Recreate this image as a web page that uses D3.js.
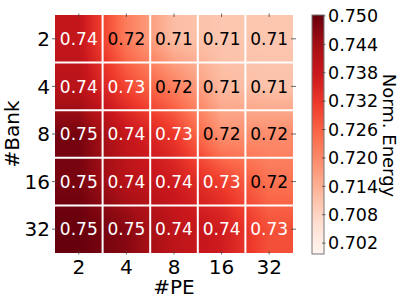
<!DOCTYPE html>
<html>
<head>
<meta charset="utf-8">
<script src="https://cdn.jsdelivr.net/npm/d3@7"></script>
<style>
  body { margin: 0; background: #fff; }
  text { font-family: "DejaVu Sans", sans-serif; }
</style>
</head>
<body>
<script>
// data
var peLabels = ['2', '4', '8', '16', '32'];   // x: #PE
var bankLabels = ['2', '4', '8', '16', '32']; // y: #Bank
var energyBank2  = [0.7390, 0.7220, 0.7120, 0.7105, 0.7105];
var energyBank4  = [0.7405, 0.7300, 0.7215, 0.7125, 0.7110];
var energyBank8  = [0.7488, 0.7388, 0.7320, 0.7185, 0.7195];
var energyBank16 = [0.7485, 0.7410, 0.7370, 0.7310, 0.7235];
var energyBank32 = [0.7502, 0.7470, 0.7400, 0.7370, 0.7285];
var colorbarTicks = [0.702, 0.708, 0.714, 0.720, 0.726, 0.732, 0.738, 0.744, 0.750];
var vmin = 0.6997, vmax = 0.7502;

var grid = [energyBank2, energyBank4, energyBank8, energyBank16, energyBank32];

var width = 399, height = 299;
// heatmap box (note: "top" is reserved on window)
var mLeft = 55, mRight = 293, mTop = 15, mBottom = 253;

// matplotlib "Reds"
var redStops = ['#fff5f0', '#fee0d2', '#fcbba1', '#fc9272', '#fb6a4a', '#ef3b2c', '#cb181d', '#a50f15', '#67000d'];
var color = d3.scaleLinear()
  .domain(redStops.map(function(d, i) { return vmin + (vmax - vmin) * i / (redStops.length - 1); }))
  .range(redStops)
  .interpolate(d3.interpolateRgb)
  .clamp(true);

var x = d3.scaleBand().domain(peLabels).range([mLeft, mRight]);
var y = d3.scaleBand().domain(bankLabels).range([mTop, mBottom]);

var svg = d3.select('body').append('svg')
  .attr('width', width)
  .attr('height', height);

// bilinear shaded image of the grid
var imgW = Math.round(mRight - mLeft), imgH = Math.round(mBottom - mTop);
var canvas = document.createElement('canvas');
canvas.width = imgW; canvas.height = imgH;
var ctx = canvas.getContext('2d');
var img = ctx.createImageData(imgW, imgH);
var nx = peLabels.length, ny = bankLabels.length;
for (var py = 0; py < imgH; py++) {
  var gy = Math.max(0, Math.min(ny - 1, (py + 0.5) / imgH * ny - 0.5));
  var y0 = Math.min(ny - 2, Math.floor(gy)), fy = gy - y0;
  for (var px = 0; px < imgW; px++) {
    var gx = Math.max(0, Math.min(nx - 1, (px + 0.5) / imgW * nx - 0.5));
    var x0 = Math.min(nx - 2, Math.floor(gx)), fx = gx - x0;
    var v = grid[y0][x0] * (1 - fx) * (1 - fy) + grid[y0][x0 + 1] * fx * (1 - fy) +
            grid[y0 + 1][x0] * (1 - fx) * fy + grid[y0 + 1][x0 + 1] * fx * fy;
    var c = d3.rgb(color(v));
    var k = (py * imgW + px) * 4;
    img.data[k] = c.r; img.data[k + 1] = c.g; img.data[k + 2] = c.b; img.data[k + 3] = 255;
  }
}
ctx.putImageData(img, 0, 0);

svg.append('image')
  .attr('x', mLeft).attr('y', mTop)
  .attr('width', mRight - mLeft).attr('height', mBottom - mTop)
  .attr('preserveAspectRatio', 'none')
  .attr('href', canvas.toDataURL());

// white cell separators
var g = svg.append('g');
peLabels.slice(1).forEach(function(p) {
  g.append('line').attr('x1', x(p)).attr('x2', x(p)).attr('y1', mTop).attr('y2', mBottom)
    .attr('stroke', '#fff').attr('stroke-width', 2);
});
bankLabels.slice(1).forEach(function(b) {
  g.append('line').attr('y1', y(b)).attr('y2', y(b)).attr('x1', mLeft).attr('x2', mRight)
    .attr('stroke', '#fff').attr('stroke-width', 2);
});

// small ticks on the four sides
var tickG = svg.append('g').attr('stroke', '#444').attr('stroke-width', 0.8);
peLabels.forEach(function(p) {
  var cx = x(p) + x.bandwidth() / 2;
  tickG.append('line').attr('x1', cx).attr('x2', cx).attr('y1', mBottom - 2).attr('y2', mBottom + 1.5);
  tickG.append('line').attr('x1', cx).attr('x2', cx).attr('y1', mTop - 1.5).attr('y2', mTop + 2);
});
bankLabels.forEach(function(b) {
  var cy = y(b) + y.bandwidth() / 2;
  tickG.append('line').attr('y1', cy).attr('y2', cy).attr('x1', mLeft - 3).attr('x2', mLeft + 2);
  tickG.append('line').attr('y1', cy).attr('y2', cy).attr('x1', mRight - 2).attr('x2', mRight + 3);
});

// cell annotations
grid.forEach(function(row, i) {
  row.forEach(function(v, j) {
    svg.append('text')
      .attr('x', x(peLabels[j]) + x.bandwidth() / 2)
      .attr('y', y(bankLabels[i]) + y.bandwidth() / 2)
      .attr('dy', '0.36em')
      .attr('text-anchor', 'middle')
      .attr('font-size', '17px')
      .attr('fill', v > 0.725 ? '#fff' : '#000')
      .text(v.toFixed(2));
  });
});

// axis tick labels
peLabels.forEach(function(p) {
  svg.append('text')
    .attr('x', x(p) + x.bandwidth() / 2).attr('y', 274)
    .attr('text-anchor', 'middle').attr('font-size', '20px')
    .text(p);
});
bankLabels.forEach(function(b) {
  svg.append('text')
    .attr('x', 50).attr('y', y(b) + y.bandwidth() / 2)
    .attr('dy', '0.36em')
    .attr('text-anchor', 'end').attr('font-size', '20px')
    .text(b);
});

// axis titles
svg.append('text')
  .attr('x', (mLeft + mRight) / 2).attr('y', 294)
  .attr('text-anchor', 'middle').attr('font-size', '20px')
  .text('#PE');
svg.append('text')
  .attr('transform', 'translate(18.5,' + ((mTop + mBottom) / 2) + ') rotate(-90)')
  .attr('text-anchor', 'middle').attr('font-size', '20px')
  .text('#Bank');

// colorbar
var cbX = 312, cbW = 12, cbTop = 15, cbBottom = 254;
var cbScale = d3.scaleLinear().domain([vmin, vmax]).range([cbBottom, cbTop]);

var grad = svg.append('defs').append('linearGradient')
  .attr('id', 'cbGrad')
  .attr('x1', 0).attr('y1', 1).attr('x2', 0).attr('y2', 0);
redStops.forEach(function(c, i) {
  grad.append('stop').attr('offset', (i / (redStops.length - 1) * 100) + '%').attr('stop-color', c);
});

svg.append('rect')
  .attr('x', cbX).attr('y', cbTop)
  .attr('width', cbW).attr('height', cbBottom - cbTop)
  .attr('fill', 'url(#cbGrad)')
  .attr('stroke', '#777').attr('stroke-width', 1);

colorbarTicks.forEach(function(t) {
  var ty = cbScale(t);
  svg.append('line')
    .attr('x1', cbX + cbW - 2).attr('x2', cbX + cbW + 1.5)
    .attr('y1', ty).attr('y2', ty)
    .attr('stroke', '#444').attr('stroke-width', 0.8);
  svg.append('text')
    .attr('x', cbX + cbW + 4).attr('y', ty)
    .attr('dy', '0.36em')
    .attr('font-size', '17.5px')
    .text(d3.format('.3f')(t));
});

svg.append('text')
  .attr('transform', 'translate(383,' + ((cbTop + cbBottom) / 2 + 1) + ') rotate(90)')
  .attr('text-anchor', 'middle').attr('font-size', '18px')
  .text('Norm. Energy');
</script>
</body>
</html>
